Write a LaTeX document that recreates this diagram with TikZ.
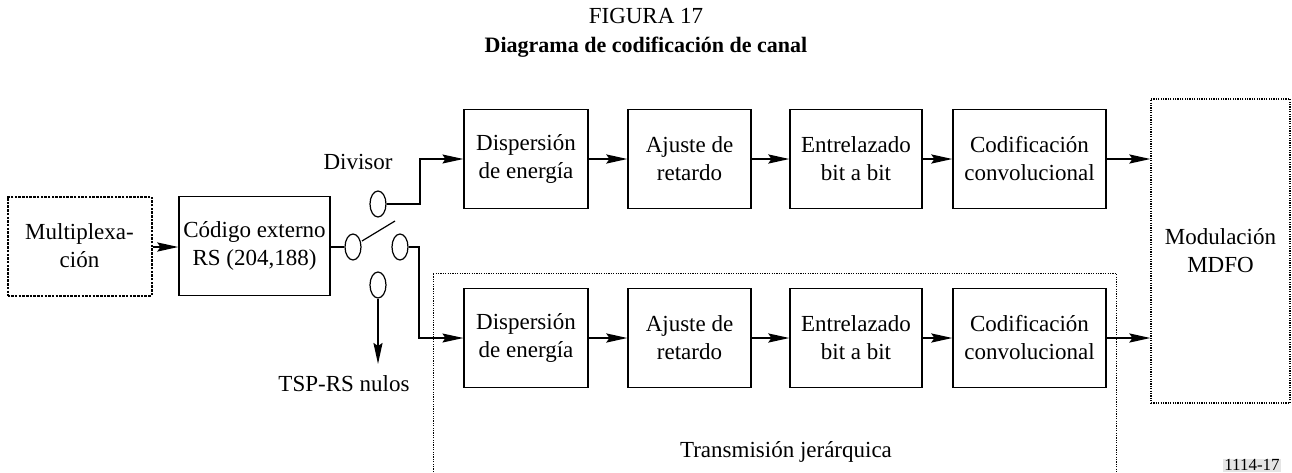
\documentclass[tikz,border=0pt]{standalone}
\usepackage{fontspec}
\setmainfont{Liberation Serif}
\usetikzlibrary{arrows.meta,shapes.geometric}
\begin{document}
\begin{tikzpicture}[x=1pt,y=-1pt,
  lbl/.style={font=\fontsize{23}{28}\selectfont, align=center, inner sep=0pt},
  blk/.style={draw, line width=1.2pt, align=center, inner sep=0pt,
    font=\fontsize{23}{28}\selectfont},
  sw/.style={draw, line width=1.2pt, ellipse, minimum width=16pt, minimum height=26pt, inner sep=0pt},
  thinline/.style={line width=1.2pt},
  thickarr/.style={line width=2.3pt, -{Stealth[length=21pt,width=9pt,inset=3pt]}},
  thinarr/.style={line width=1.2pt, -{Stealth[length=21pt,width=9pt,inset=3pt]}},
  dots/.style={line width=1.1pt, dash pattern=on 1.2pt off 1.2pt},
  densedash/.style={line width=2pt, dash pattern=on 2.5pt off 1.2pt}
]
\useasboundingbox (0,0) rectangle (1292,472);

% titles
\node[lbl] (fig) at (646,16) {FIGURA 17};
\node[font=\fontsize{22}{26}\selectfont\bfseries, inner sep=0pt] (tit) at (646,47) {Diagrama de codificación de canal};

% left blocks
\node[blk, densedash, minimum width=144pt, minimum height=99pt] (mux) at (79.5,246) {Multiplexa-\\ción};
\node[blk, minimum width=151pt, minimum height=99pt] (rs) at (254.5,246) {Código externo\\RS (204,188)};

% switch
\node[sw] (sin) at (353,247) {};
\node[sw] (sup) at (378,204) {};
\node[sw] (sright) at (400,247) {};
\node[sw] (sdown) at (378,285) {};
\coordinate (lev1) at (362,241);
\coordinate (lev2) at (395,221);
\coordinate (tsp) at (378,364);
\node[lbl] (div) at (358,162) {Divisor};
\node[lbl] (tsplbl) at (344,384) {TSP-RS nulos};

% transmission hierarchical dotted frame
\coordinate (fr1) at (433,472);
\coordinate (fr2) at (433,273);
\coordinate (fr3) at (1116,273);
\coordinate (fr4) at (1116,472);
\draw[dots, line width=0.9pt] (fr1) -- (fr2) -- (fr3) -- (fr4);
\node[lbl] (tj) at (786,452) {Transmisión jerárquica};

% top row
\node[blk, minimum width=124pt, minimum height=99pt] (a1) at (526,159) {Dispersión\\de energía};
\node[blk, minimum width=123pt, minimum height=99pt] (a2) at (689.5,159) {Ajuste de\\retardo};
\node[blk, minimum width=132pt, minimum height=99pt] (a3) at (856,159) {Entrelazado\\bit a bit};
\node[blk, minimum width=153pt, minimum height=99pt] (a4) at (1029.5,159) {Codificación\\convolucional};

% bottom row
\node[blk, minimum width=124pt, minimum height=99pt] (b1) at (526,338) {Dispersión\\de energía};
\node[blk, minimum width=123pt, minimum height=99pt] (b2) at (689.5,338) {Ajuste de\\retardo};
\node[blk, minimum width=132pt, minimum height=99pt] (b3) at (856,338) {Entrelazado\\bit a bit};
\node[blk, minimum width=153pt, minimum height=99pt] (b4) at (1029.5,338) {Codificación\\convolucional};

% modulation
\node[blk, dots, minimum width=139pt, minimum height=304pt] (mod) at (1220.5,251) {Modulación\\MDFO};

% label
\node[fill=black!10, font=\fontsize{17}{20}\selectfont, inner xsep=1pt, inner ysep=1pt, anchor=south] (num) at (1252,472) {1114-17};

% connectors
\draw[thickarr] (mux.east |- 0,247) -- (rs.west |- 0,247);
\draw[line width=2.3pt] (rs.east |- sin.west) -- (sin.west);
\draw[thinline] (lev1) -- (lev2);
\draw[thinarr] (sup.east) -| (420,159) -- (a1.west);
\draw[thinarr] (sright.east) -| (419,338) -- (b1.west);
\draw[line width=2pt, -{Stealth[length=21pt,width=9pt,inset=3pt]}] (sdown.south) -- (tsp);

\draw[thickarr] (a1) -- (a2);
\draw[thickarr] (a2) -- (a3);
\draw[thickarr] (a3) -- (a4);
\draw[thickarr] (a4.east) -- (mod.west |- a4.east);
\draw[thickarr] (b1) -- (b2);
\draw[thickarr] (b2) -- (b3);
\draw[thickarr] (b3) -- (b4);
\draw[thickarr] (b4.east) -- (mod.west |- b4.east);
\end{tikzpicture}
\end{document}
